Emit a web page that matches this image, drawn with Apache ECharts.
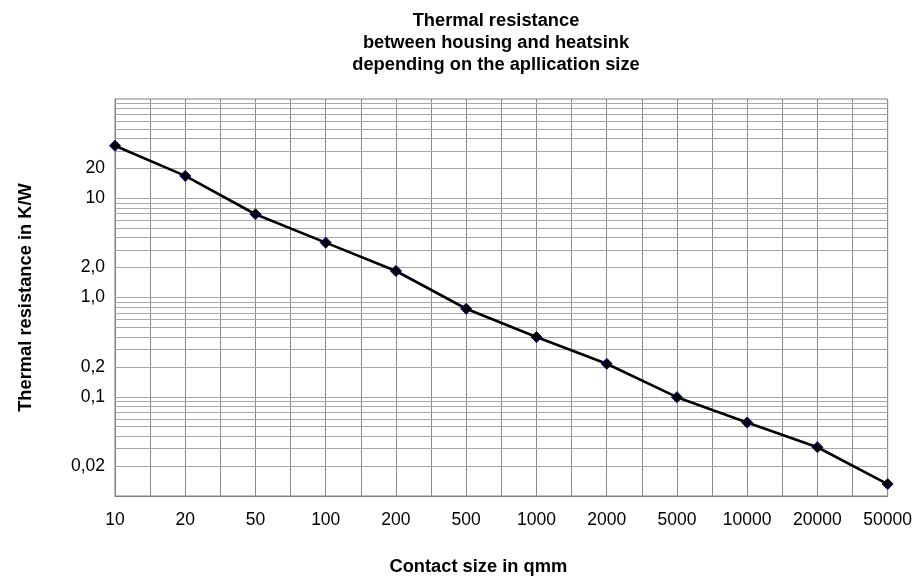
<!DOCTYPE html>
<html>
<head>
<meta charset="utf-8">
<script src="https://cdn.jsdelivr.net/npm/echarts@6/dist/echarts.min.js"></script>
<style>
  html, body { margin: 0; padding: 0; background: #ffffff; }
  #chart { width: 915px; height: 581px; }
</style>
</head>
<body>
<div id="chart"></div>
<script>
// Contact size categories (qmm), equally spaced on the x axis
const xCategories = ['10', '20', '50', '100', '200', '500', '1000', '2000', '5000', '10000', '20000', '50000'];
// Thermal resistance in K/W
const resistance = [33.8, 16.8, 6.9, 3.57, 1.85, 0.77, 0.40, 0.215, 0.099, 0.055, 0.031, 0.0132];
// Y tick labels (log axis) and their values
const yTickValues = [0.02, 0.1, 0.2, 1, 2, 10, 20];
const yTickLabels = ['0,02', '0,1', '0,2', '1,0', '2,0', '10', '20'];
// Decades and multipliers for the log gridlines
const gridDecades = [0.01, 0.1, 1, 10];
const gridMultipliers = [1, 2, 3, 4, 5, 6, 7, 8, 9];

const gridValues = [];
gridDecades.forEach(d => gridMultipliers.forEach(m => {
  const v = +(d * m).toPrecision(3);
  if (v > 0.01 && v < 100) gridValues.push(v);
}));

const FONT = "'Liberation Sans', Arial, sans-serif";

const chart = echarts.init(document.getElementById('chart'), null, { renderer: 'canvas' });
chart.setOption({
  animation: false,
  backgroundColor: '#ffffff',
  title: {
    text: 'Thermal resistance\nbetween housing and heatsink\ndepending on the apllication size',
    left: 491,
    top: 5,
    textAlign: 'center',
    textStyle: { fontFamily: FONT, fontSize: 18.3, fontWeight: 'bold', color: '#000', lineHeight: 22 }
  },
  grid: {
    left: 115, right: 27, top: 99, bottom: 84,
    show: true, borderColor: '#808080', borderWidth: 1, backgroundColor: 'transparent'
  },
  xAxis: {
    type: 'value',
    min: 0, max: xCategories.length - 1, interval: 0.5,
    name: 'Contact size in qmm',
    nameLocation: 'middle',
    nameGap: 62,
    nameTextStyle: { fontFamily: FONT, fontSize: 18.3, fontWeight: 'bold', color: '#000', padding: [0, 46, 0, 0] },
    axisLine: { show: true, lineStyle: { color: '#808080', width: 1 } },
    axisTick: { show: false },
    axisLabel: {
      fontFamily: FONT, fontSize: 17.5, color: '#000', margin: 15,
      formatter: v => Number.isInteger(v) ? xCategories[v] : ''
    },
    splitLine: { show: true, lineStyle: { color: '#8c8c8c', width: 1 } }
  },
  yAxis: {
    type: 'log', logBase: 10, min: 0.01, max: 100,
    name: 'Thermal resistance in K/W',
    nameLocation: 'middle',
    nameGap: 80,
    nameTextStyle: { fontFamily: FONT, fontSize: 18.3, fontWeight: 'bold', color: '#000' },
    axisLine: { show: true, lineStyle: { color: '#808080', width: 1 } },
    axisTick: { show: false },
    axisLabel: {
      fontFamily: FONT, fontSize: 17.5, color: '#000', margin: 10,
      customValues: yTickValues,
      formatter: v => {
        const i = yTickValues.findIndex(t => Math.abs(t - v) / t < 1e-6);
        return i >= 0 ? yTickLabels[i] : '';
      }
    },
    splitLine: { show: false }
  },
  series: [
    {
      name: 'grid',
      type: 'line',
      data: [],
      z: 1,
      silent: true,
      markLine: {
        silent: true,
        animation: false,
        symbol: ['none', 'none'],
        label: { show: false },
        lineStyle: { color: '#a8a8a8', width: 1, type: 'solid' },
        emphasis: { disabled: true },
        data: gridValues.map(v => ({ yAxis: v }))
      }
    },
    {
      name: 'Thermal resistance',
      type: 'line',
      z: 5,
      data: resistance.map((r, i) => [i, r]),
      lineStyle: { color: '#000000', width: 2.6 },
      symbol: 'diamond',
      symbolSize: 11,
      itemStyle: { color: '#000000', borderColor: '#000080', borderWidth: 1 }
    }
  ]
});
</script>
</body>
</html>
